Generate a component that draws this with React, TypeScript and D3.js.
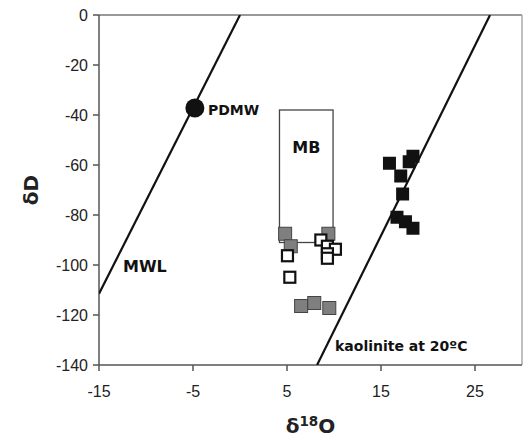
import React, { useLayoutEffect } from "react";
import * as d3 from "d3";

// chart values
const xTicks = [-15, -5, 5, 15, 25];
const yTicks = [0, -20, -40, -60, -80, -100, -120, -140];

// present-day meteoric water
const pdmwO = [-4.8];
const pdmwD = [-37.2];

// gray filled samples
const grayO = [4.8, 5.4, 9.4, 6.5, 7.9, 9.5];
const grayD = [-87.5, -92.5, -87.5, -116.4, -115.2, -117.2];

// open samples
const openO = [5.05, 5.3, 8.6, 9.3, 10.15, 9.3, 9.3];
const openD = [-96.3, -104.9, -90, -92.5, -93.7, -95.5, -97.3];

// black samples
const blackO = [15.9, 18.4, 18.0, 17.1, 17.3, 16.7, 17.6, 18.4];
const blackD = [-59.3, -56.5, -58.7, -64.4, -71.6, -80.9, -82.7, -85.3];

// reference lines
const mwlO = [-15, 0];
const mwlD = [-111.5, 0];
const kaoO = [8.2, 26.6];
const kaoD = [-140, 0];

// MB range box
const mbO = [4.2, 9.9];
const mbD = [-38, -91];

const W = 527;
const H = 440;
const margin = { left: 99, right: 5, top: 15, bottom: 75 };

export default function App() {
  useLayoutEffect(() => {
    document.body.style.margin = "0";
  }, []);

  const x = d3.scaleLinear().domain([-15, 30]).range([margin.left, W - margin.right]);
  const y = d3.scaleLinear().domain([-140, 0]).range([H - margin.bottom, margin.top]);

  const mwlPath = d3
    .line<number>()
    .x((_, i) => x(mwlO[i]))
    .y((_, i) => y(mwlD[i]))(mwlO);
  const kaoPath = d3
    .line<number>()
    .x((_, i) => x(kaoO[i]))
    .y((_, i) => y(kaoD[i]))(kaoO);

  const sq = 13;
  const tickFont = "'Liberation Sans', Arial, sans-serif";
  const boldFont = "'DejaVu Sans', Verdana, sans-serif";

  const [x0, x1] = x.range();
  const [y0, y1] = y.range();

  return (
    <svg width={W} height={H} style={{ display: "block", background: "#fff" }}>
      <defs>
        <clipPath id="plot">
          <rect x={x0} y={y1} width={x1 - x0} height={y0 - y1} />
        </clipPath>
      </defs>

      {/* plot frame */}
      <line x1={x0} x2={x1} y1={y1} y2={y1} stroke="#777" strokeWidth={1.5} />
      <line x1={x1} x2={x1} y1={y1} y2={y0} stroke="#aaa" strokeWidth={1.5} />

      {/* axes */}
      <line x1={x0} x2={x0} y1={y1} y2={y0} stroke="#555" strokeWidth={1.5} />
      <line x1={x0} x2={x1} y1={y0} y2={y0} stroke="#555" strokeWidth={1.5} />
      {yTicks.map((t) => (
        <g key={"y" + t}>
          <line x1={x0 - 6} x2={x0} y1={y(t)} y2={y(t)} stroke="#555" strokeWidth={1.5} />
          <text x={x0 - 11} y={y(t) + 6} textAnchor="end" fontFamily={tickFont} fontSize={16} fill="#222">
            {t}
          </text>
        </g>
      ))}
      {xTicks.map((t) => (
        <g key={"x" + t}>
          <line x1={x(t)} x2={x(t)} y1={y0} y2={y0 + 6} stroke="#555" strokeWidth={1.5} />
          <text x={x(t)} y={y0 + 32} textAnchor="middle" fontFamily={tickFont} fontSize={16} fill="#222">
            {t}
          </text>
        </g>
      ))}

      {/* axis titles */}
      <text
        transform={`translate(38, ${(y0 + y1) / 2}) rotate(-90)`}
        textAnchor="middle"
        fontFamily={boldFont}
        fontWeight="bold"
        fontSize={20}
        fill="#222"
      >
        δD
      </text>
      <text x={(x0 + x1) / 2} y={433} textAnchor="middle" fontFamily={boldFont} fontWeight="bold" fontSize={20} fill="#222">
        δ<tspan fontSize={13.5} dy={-7}>18</tspan>
        <tspan dy={7}>O</tspan>
      </text>

      <g clipPath="url(#plot)">
        {/* MB box */}
        <rect
          x={x(mbO[0])}
          y={y(mbD[0])}
          width={x(mbO[1]) - x(mbO[0])}
          height={y(mbD[1]) - y(mbD[0])}
          fill="none"
          stroke="#444"
          strokeWidth={1.3}
        />

        {/* lines */}
        <path d={mwlPath ?? ""} fill="none" stroke="#111" strokeWidth={2.2} />
        <path d={kaoPath ?? ""} fill="none" stroke="#111" strokeWidth={2.2} />

        {/* gray squares */}
        {grayO.map((o, i) => (
          <rect
            key={"g" + i}
            x={x(o) - sq / 2}
            y={y(grayD[i]) - sq / 2}
            width={sq}
            height={sq}
            fill="#7f7f7f"
            stroke="#444"
            strokeWidth={1}
          />
        ))}

        {/* open squares */}
        {openO.map((o, i) => (
          <rect
            key={"o" + i}
            x={x(o) - sq / 2 + 1}
            y={y(openD[i]) - sq / 2 + 1}
            width={sq - 2}
            height={sq - 2}
            fill="#fff"
            stroke="#111"
            strokeWidth={2.2}
          />
        ))}

        {/* black squares */}
        {blackO.map((o, i) => (
          <rect
            key={"b" + i}
            x={x(o) - sq / 2}
            y={y(blackD[i]) - sq / 2}
            width={sq}
            height={sq}
            fill="#111"
          />
        ))}

        {/* PDMW point */}
        {pdmwO.map((o, i) => (
          <circle key={"p" + i} cx={x(o)} cy={y(pdmwD[i])} r={9.5} fill="#111" />
        ))}
      </g>

      {/* labels */}
      <text x={x(pdmwO[0]) + 13} y={y(pdmwD[0]) + 7} fontFamily={boldFont} fontWeight="bold" fontSize={14} fill="#111">
        PDMW
      </text>
      <text x={(x(mbO[0]) + x(mbO[1])) / 2} y={y(mbD[0]) + 43} textAnchor="middle" fontFamily={boldFont} fontWeight="bold" fontSize={16} fill="#111">
        MB
      </text>
      <text x={123} y={272} fontFamily={boldFont} fontWeight="bold" fontSize={16} fill="#111">
        MWL
      </text>
      <text x={335} y={351} fontFamily={boldFont} fontWeight="bold" fontSize={14} fill="#111">
        kaolinite at 20ºC
      </text>
    </svg>
  );
}
